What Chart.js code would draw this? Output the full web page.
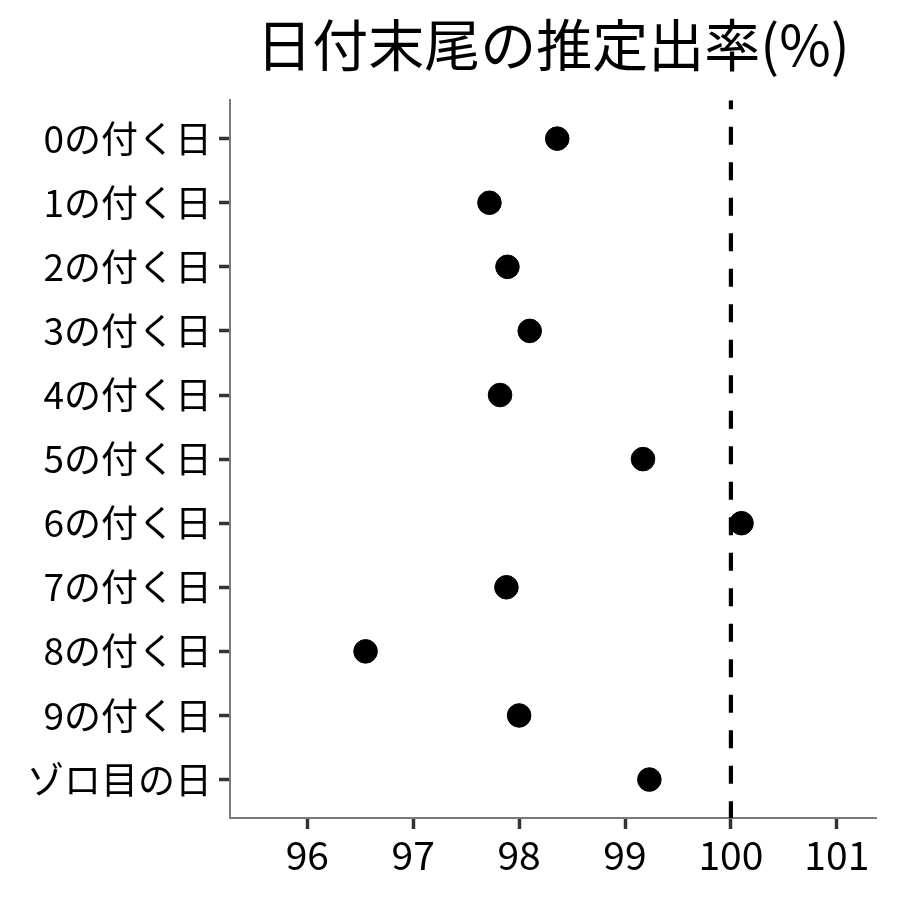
<!DOCTYPE html>
<html>
<head>
<meta charset="utf-8">
<script src="https://cdn.jsdelivr.net/npm/chart.js@4.4.1/dist/chart.umd.min.js"></script>
<style>
html,body{margin:0;padding:0;background:#fff;}
#wrap{width:900px;height:900px;}
</style>
</head>
<body>
<div id="wrap"><canvas id="c" width="900" height="900"></canvas></div>
<script>
const categories = ["0の付く日","1の付く日","2の付く日","3の付く日","4の付く日","5の付く日","6の付く日","7の付く日","8の付く日","9の付く日","ゾロ目の日"];
const rates = [98.36, 97.72, 97.89, 98.10, 97.82, 99.17, 100.10, 97.88, 96.55, 98.00, 99.23];
const xTicks = [96, 97, 98, 99, 100, 101];
const refValue = 100;
const titleText = "日付末尾の推定出率(%)";

const FONT = "'Noto Sans CJK JP', 'Noto Sans', sans-serif";
const points = rates.map((v, i) => ({x: v, y: i}));
const yMin = -0.6, yMax = categories.length - 1 + 0.6;

new Chart(document.getElementById('c'), {
  type: 'scatter',
  data: {
    datasets: [
      {
        type: 'line',
        data: [{x: refValue, y: yMin}, {x: refValue, y: yMax}],
        borderColor: '#000',
        borderWidth: 4.2,
        borderDash: [18, 17.5],
        borderDashOffset: 9,
        pointRadius: 0,
        fill: false
      },
      {
        data: points,
        backgroundColor: '#000',
        borderColor: '#000',
        pointRadius: 11.8,
        pointHoverRadius: 11.8
      }
    ]
  },
  options: {
    responsive: false,
    animation: false,
    devicePixelRatio: 1,
    layout: {padding: {left: 0, right: 24, top: 0, bottom: 0}},
    plugins: {
      legend: {display: false},
      tooltip: {enabled: false},
      title: {
        display: true,
        text: titleText,
        fullSize: false,
        color: '#000',
        font: {family: FONT, size: 56, weight: 'normal', lineHeight: 1.2},
        padding: {top: 11, bottom: 22}
      }
    },
    scales: {
      x: {
        type: 'linear',
        min: 95.27,
        max: 101.37,
        afterBuildTicks: s => { s.ticks = xTicks.map(v => ({value: v})); },
        afterFit: s => { s.height = 82; },
        border: {display: true, color: '#7a7a7a', width: 2},
        grid: {display: true, drawOnChartArea: false, drawTicks: true, tickLength: 11, tickColor: '#333', tickWidth: 3.5},
        ticks: {color: '#000', padding: 3, font: {family: FONT, size: 39}, callback: v => String(v)}
      },
      y: {
        type: 'linear',
        reverse: true,
        min: yMin,
        max: yMax,
        afterBuildTicks: s => { s.ticks = categories.map((c, i) => ({value: i})); },
        afterFit: s => { s.width = 230; },
        border: {display: true, color: '#7a7a7a', width: 2},
        grid: {display: true, drawOnChartArea: false, drawTicks: true, tickLength: 11, tickColor: '#333', tickWidth: 3.5},
        ticks: {color: '#000', padding: 7, font: {family: FONT, size: 37}, callback: v => categories[v]}
      }
    }
  }
});
</script>
</body>
</html>
